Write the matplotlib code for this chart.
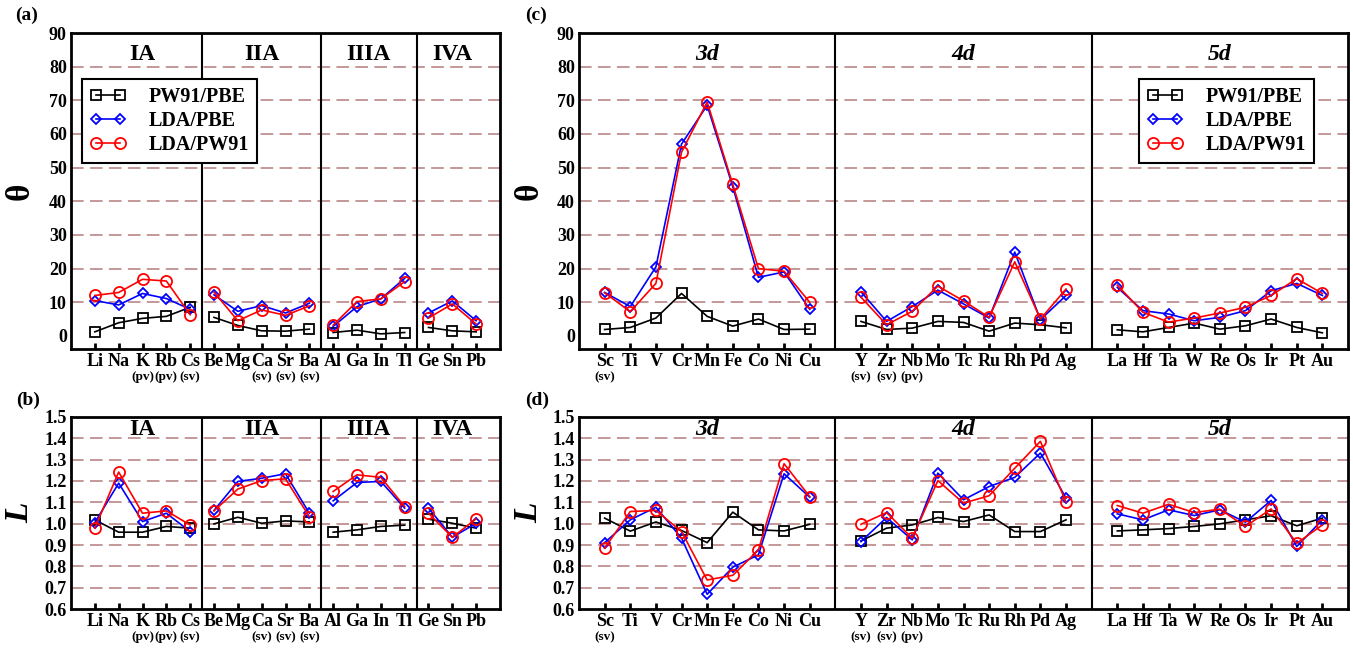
import numpy as np
import matplotlib
matplotlib.use("Agg")
import matplotlib.pyplot as plt
from matplotlib.transforms import blended_transform_factory

plt.rcParams['font.family'] = 'serif'
plt.rcParams['font.serif'] = ['Liberation Serif', 'DejaVu Serif']
plt.rcParams['font.weight'] = 'bold'

# main-group elements (panels a, b)
main_labels = ['Li', 'Na', 'K', 'Rb', 'Cs', 'Be', 'Mg', 'Ca', 'Sr', 'Ba',
               'Al', 'Ga', 'In', 'Tl', 'Ge', 'Sn', 'Pb']
main_notes = ['', '', '(pv)', '(pv)', '(sv)', '', '', '(sv)', '(sv)', '(sv)',
              '', '', '', '', '', '', '']
main_groups = ['IA', 'IIA', 'IIIA', 'IVA']
main_group_sizes = [5, 5, 4, 3]

theta_main_pw91_pbe = [1.2, 3.9, 5.2, 5.8, 8.5, 5.5, 3.1, 1.5, 1.4, 2.0,
                       1.0, 1.7, 0.6, 1.0, 2.5, 1.5, 1.2]
theta_main_lda_pbe = [10.5, 9.2, 12.6, 11.1, 7.9, 12.2, 7.3, 9.0, 6.8, 9.7,
                      2.8, 8.7, 11.0, 17.1, 6.8, 10.4, 4.5]
theta_main_lda_pw91 = [12.0, 12.9, 16.8, 16.3, 6.3, 13.0, 4.5, 7.7, 6.1, 8.9,
                       3.2, 10.2, 11.0, 16.1, 5.3, 9.5, 3.5]

L_main_pw91_pbe = [1.018, 0.960, 0.960, 0.987, 0.979, 0.999, 1.030, 1.002, 1.013, 1.008,
                   0.960, 0.971, 0.987, 0.993, 1.021, 1.002, 0.979]
L_main_lda_pbe = [1.005, 1.190, 1.010, 1.049, 0.963, 1.062, 1.198, 1.213, 1.234, 1.049,
                  1.107, 1.193, 1.198, 1.073, 1.073, 0.936, 1.002]
L_main_lda_pw91 = [0.979, 1.242, 1.049, 1.060, 0.994, 1.060, 1.162, 1.202, 1.210, 1.033,
                   1.151, 1.229, 1.217, 1.080, 1.049, 0.936, 1.023]

# transition metals (panels c, d)
tm_labels = ['Sc', 'Ti', 'V', 'Cr', 'Mn', 'Fe', 'Co', 'Ni', 'Cu',
             'Y', 'Zr', 'Nb', 'Mo', 'Tc', 'Ru', 'Rh', 'Pd', 'Ag',
             'La', 'Hf', 'Ta', 'W', 'Re', 'Os', 'Ir', 'Pt', 'Au']
tm_notes = ['(sv)', '', '', '', '', '', '', '', '',
            '(sv)', '(sv)', '(pv)', '', '', '', '', '', '',
            '', '', '', '', '', '', '', '', '']
tm_groups = ['3d', '4d', '5d']
tm_group_sizes = [9, 9, 9]

theta_tm_pw91_pbe = [1.9, 2.5, 5.3, 12.6, 5.8, 2.9, 5.0, 1.9, 2.0,
                     4.3, 1.9, 2.3, 4.3, 4.0, 1.4, 3.8, 3.3, 2.4,
                     1.8, 1.2, 2.5, 3.8, 2.0, 3.0, 5.0, 2.5, 0.9]
theta_tm_lda_pbe = [12.9, 8.7, 20.5, 57.0, 68.5, 44.3, 17.4, 19.0, 7.9,
                    13.1, 4.3, 8.7, 13.6, 9.5, 5.3, 24.9, 4.8, 12.0,
                    14.4, 7.5, 6.5, 4.5, 5.5, 7.5, 13.4, 15.6, 12.0]
theta_tm_lda_pw91 = [12.8, 7.2, 15.6, 54.6, 69.5, 45.0, 20.0, 19.2, 10.0,
                     11.5, 3.3, 7.3, 14.8, 10.4, 5.5, 22.0, 5.0, 13.9,
                     15.1, 7.0, 4.1, 5.3, 6.8, 8.5, 12.0, 17.0, 12.6]

L_tm_pw91_pbe = [1.026, 0.965, 1.008, 0.968, 0.911, 1.054, 0.971, 0.966, 0.997,
                 0.919, 0.979, 0.994, 1.029, 1.010, 1.041, 0.963, 0.963, 1.018,
                 0.966, 0.971, 0.977, 0.987, 0.999, 1.018, 1.037, 0.990, 1.026]
L_tm_lda_pbe = [0.911, 1.018, 1.077, 0.932, 0.669, 0.796, 0.854, 1.234, 1.124,
                0.916, 1.029, 0.924, 1.237, 1.112, 1.174, 1.217, 1.331, 1.120,
                1.046, 1.018, 1.065, 1.038, 1.065, 1.007, 1.109, 0.893, 1.018]
L_tm_lda_pw91 = [0.885, 1.057, 1.062, 0.963, 0.736, 0.758, 0.877, 1.281, 1.127,
                 0.997, 1.052, 0.932, 1.202, 1.096, 1.131, 1.260, 1.386, 1.101,
                 1.085, 1.049, 1.091, 1.052, 1.068, 0.987, 1.069, 0.908, 0.994]

series_names = ['PW91/PBE', 'LDA/PBE', 'LDA/PW91']
series_colors = ['black', '#0000ff', '#ff0000']
series_markers = ['s', 'D', 'o']
series_msizes = [6.5, 5.5, 8.0]


# Positions of categories; groups are separated by a gap of `gap` slots
def group_positions(sizes, gap):
    pos = []
    start = 0
    for n in sizes:
        pos.extend(range(start, start + n))
        start += n + gap
    return np.array(pos, dtype=float)


def draw_panel(ax, labels, notes, groups, sizes, gap, series, ylim, yticks, yfmt,
               ylabel, ylabel_style, legend_anchor=None):
    xs = group_positions(sizes, gap)

    for y in yticks[1:-1]:
        ax.axhline(y, color='#bf9090', lw=1.3, ls=(0, (7, 3.5)), zorder=1)

    trans = blended_transform_factory(ax.transData, ax.transAxes)
    bounds = np.cumsum([0] + list(sizes))

    # group dividers and titles
    for k in range(len(sizes)):
        grp = xs[bounds[k]:bounds[k + 1]]
        ax.text(grp.mean(), 0.933, groups[k], transform=trans, ha='center', va='center',
                fontsize=17, fontweight='bold',
                fontstyle='italic' if groups[k].endswith('d') else 'normal')
        if k < len(sizes) - 1:
            ax.axvline(grp[-1] + (gap + 1) / 2.0, color='black', lw=1.5, zorder=2)

    # each group is drawn as its own line, no link across the dividers
    for vals, name, col, mk, ms in zip(series, series_names, series_colors,
                                       series_markers, series_msizes):
        vals = np.asarray(vals)
        for k in range(len(sizes)):
            sl = slice(bounds[k], bounds[k + 1])
            ax.plot(xs[sl], vals[sl], color=col, lw=1.2, marker=mk, ms=ms, mfc='none',
                    mec=col, mew=1.3, label=name if k == 0 else None, zorder=3)

    ax.set_xlim(-1, xs[-1] + 1)
    ax.set_ylim(*ylim)
    ax.set_yticks(yticks)
    ax.set_yticklabels([yfmt.format(v) for v in yticks], fontsize=13, fontweight='bold')
    ax.set_xticks(xs)
    ax.set_xticklabels(labels, fontsize=13, fontweight='bold')
    ax.tick_params(axis='x', direction='in', length=4, width=2, pad=3)
    ax.tick_params(axis='y', length=0, pad=3)
    for sp in ax.spines.values():
        sp.set_linewidth(2)

    for x, note in zip(xs, notes):
        if note:
            ax.annotate(note, xy=(x, 0), xycoords=trans, xytext=(0, -20.5),
                        textcoords='offset points', ha='center', va='center',
                        fontsize=9.5, fontweight='bold')

    ax.set_ylabel(ylabel, fontsize=24, fontweight='bold', fontstyle=ylabel_style, va='center')

    if legend_anchor is not None:
        leg = ax.legend(loc='upper left', bbox_to_anchor=legend_anchor, borderaxespad=0,
                        fancybox=False, edgecolor='black', framealpha=1, numpoints=2,
                        handlelength=1.8, labelspacing=0.2,
                        handletextpad=1.1, borderpad=0.4,
                        prop={'size': 14.5, 'weight': 'bold'})
        leg.get_frame().set_linewidth(1.5)
        leg.set_zorder(5)


fig = plt.figure(figsize=(13.53, 6.49), dpi=100)
W, H = 1353.0, 649.0

ax_a = fig.add_axes([71 / W, (H - 349) / H, 429 / W, 316 / H])
ax_b = fig.add_axes([71 / W, (H - 609) / H, 429 / W, 192 / H])
ax_c = fig.add_axes([579 / W, (H - 349) / H, 769 / W, 316 / H])
ax_d = fig.add_axes([579 / W, (H - 609) / H, 769 / W, 192 / H])

theta_ticks = np.arange(0, 91, 10)
L_ticks = np.round(np.arange(0.6, 1.51, 0.1), 1)

draw_panel(ax_a, main_labels, main_notes, main_groups, main_group_sizes, 0,
           [theta_main_pw91_pbe, theta_main_lda_pbe, theta_main_lda_pw91],
           (-3.9, 90), theta_ticks, '{:.0f}', 'θ', 'normal', legend_anchor=(0.026, 0.854))
draw_panel(ax_b, main_labels, main_notes, main_groups, main_group_sizes, 0,
           [L_main_pw91_pbe, L_main_lda_pbe, L_main_lda_pw91],
           (0.6, 1.5), L_ticks, '{:.1f}', 'L', 'italic')
draw_panel(ax_c, tm_labels, tm_notes, tm_groups, tm_group_sizes, 1,
           [theta_tm_pw91_pbe, theta_tm_lda_pbe, theta_tm_lda_pw91],
           (-3.9, 90), theta_ticks, '{:.0f}', 'θ', 'normal', legend_anchor=(0.728, 0.854))
draw_panel(ax_d, tm_labels, tm_notes, tm_groups, tm_group_sizes, 1,
           [L_tm_pw91_pbe, L_tm_lda_pbe, L_tm_lda_pw91],
           (0.6, 1.5), L_ticks, '{:.1f}', 'L', 'italic')

ax_a.yaxis.set_label_coords(-(71 - 20) / 429.0, 0.5)
ax_b.yaxis.set_label_coords(-(71 - 20) / 429.0, 0.5)
ax_c.yaxis.set_label_coords(-(579 - 529) / 769.0, 0.5)
ax_d.yaxis.set_label_coords(-(579 - 529) / 769.0, 0.5)

for lab, px, py in [('(a)', 27, 15), ('(b)', 28, 400), ('(c)', 536, 15), ('(d)', 537, 400)]:
    fig.text(px / W, 1 - py / H, lab, ha='center', va='center', fontsize=14, fontweight='bold')

fig.savefig('out.png', dpi=100)
